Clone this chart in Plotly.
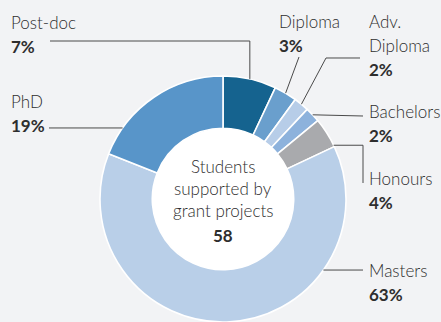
import math
import plotly.graph_objects as go

# Students supported by grant projects, by level of study
categories = ["Post-doc", "Diploma", "Adv. Diploma", "Bachelors", "Honours", "Masters", "PhD"]
label_lines = [["Post-doc"], ["Diploma"], ["Adv.", "Diploma"], ["Bachelors"], ["Honours"], ["Masters"], ["PhD"]]
shares = [7, 3, 2, 2, 4, 63, 19]  # percent of students
total_students = 58
colors = ["#15638f", "#6a9fcd", "#b7cde8", "#8db2dc", "#a9aaad", "#b9cfe8", "#5895c9"]

W, H = 441, 322
CX, CY, R = 223, 199, 123
HOLE = 0.575
FONT = "Lato"
FS = 17
TXT = "#2e2e2e"
LINE = "#4a4a4a"
BG = "#f2f3f5"


def px(x, y):
    return x / W, 1 - y / H


def edge_point(frac):
    """Point on the outer rim at a given fraction of the way round (clockwise from top)."""
    a = 2 * math.pi * frac
    return CX + R * math.sin(a), CY - R * math.cos(a)


fig = go.Figure(go.Pie(
    labels=categories,
    values=shares,
    sort=False,
    direction="clockwise",
    rotation=0,
    hole=HOLE,
    marker=dict(colors=colors, line=dict(color="white", width=1.6)),
    textinfo="none",
    hoverinfo="label+percent",
    showlegend=False,
    domain=dict(x=[(CX - R) / W, (CX + R) / W], y=[(H - CY - R) / H, (H - CY + R) / H]),
))

annotations = []
shapes = []

# white disc filling the donut hole
r_in = R * HOLE
x0, y0 = px(CX - r_in, CY + r_in)
x1, y1 = px(CX + r_in, CY - r_in)
shapes.append(dict(type="circle", xref="paper", yref="paper", x0=x0, y0=y0, x1=x1, y1=y1,
                   fillcolor="white", line=dict(width=0), layer="below"))


def add_line(x, baseline, text, xanchor="left", bold=False):
    xp, yp = px(x, baseline - 6.5)
    annotations.append(dict(
        x=xp, y=yp, xref="paper", yref="paper", xanchor=xanchor, yanchor="middle",
        text=f"<b>{text}</b>" if bold else text, showarrow=False,
        font=dict(family=FONT, size=FS, color=TXT, weight=700 if bold else 300),
    ))


def add_path(points):
    d = "M " + " L ".join(f"{px(x, y)[0]:.5f},{px(x, y)[1]:.5f}" for x, y in points)
    shapes.append(dict(type="path", path=d, xref="paper", yref="paper",
                       line=dict(color=LINE, width=1)))


cum = [sum(shares[:i]) for i in range(len(shares))]
mid = [(c + s / 2) / 100 for c, s in zip(cum, shares)]

# label blocks: (text x, first baseline, leader anchor fraction, leader route after rim)
layout_spec = {
    "Post-doc": (9, 29, mid[0], [(None, 41), (50, 41)]),
    "Diploma": (277, 28, mid[1], [(299, 57)]),
    "Adv. Diploma": (367, 28, mid[2], [(326, 58), (360, 58)]),
    "Bachelors": (367, 118, mid[3], [(363, 116)]),
    "Honours": (367, 185, (cum[4] + shares[4] * 0.95) / 100, [(363, None), (363, 183)]),
    "Masters": (367, 277, 0.348, [(363, None)]),
    "PhD": (9, 108, 0.848, [(49, None)]),
}

for i, name in enumerate(categories):
    tx, base, frac, route = layout_spec[name]
    lines = label_lines[i]
    for j, ln in enumerate(lines):
        add_line(tx, base + 24 * j, ln)
    add_line(tx, base + 24 * len(lines), f"{shares[i]}%", bold=True)

    ex, ey = edge_point(frac)
    pts = [(ex, ey)]
    for rx, ry in route:
        px_ = pts[-1][0] if rx is None else rx
        py_ = pts[-1][1] if ry is None else ry
        pts.append((px_, py_))
    add_path(pts)

# centre caption
for k, ln in enumerate(["Students", "supported by", "grant projects"]):
    add_line(CX, CY - 26 + 22 * k, ln, xanchor="center")
add_line(CX, CY + 43, str(total_students), xanchor="center", bold=True)

fig.update_layout(
    width=W, height=H,
    margin=dict(l=0, r=0, t=0, b=0),
    paper_bgcolor=BG, plot_bgcolor=BG,
    annotations=annotations, shapes=shapes,
)

fig.write_html("out.html")
